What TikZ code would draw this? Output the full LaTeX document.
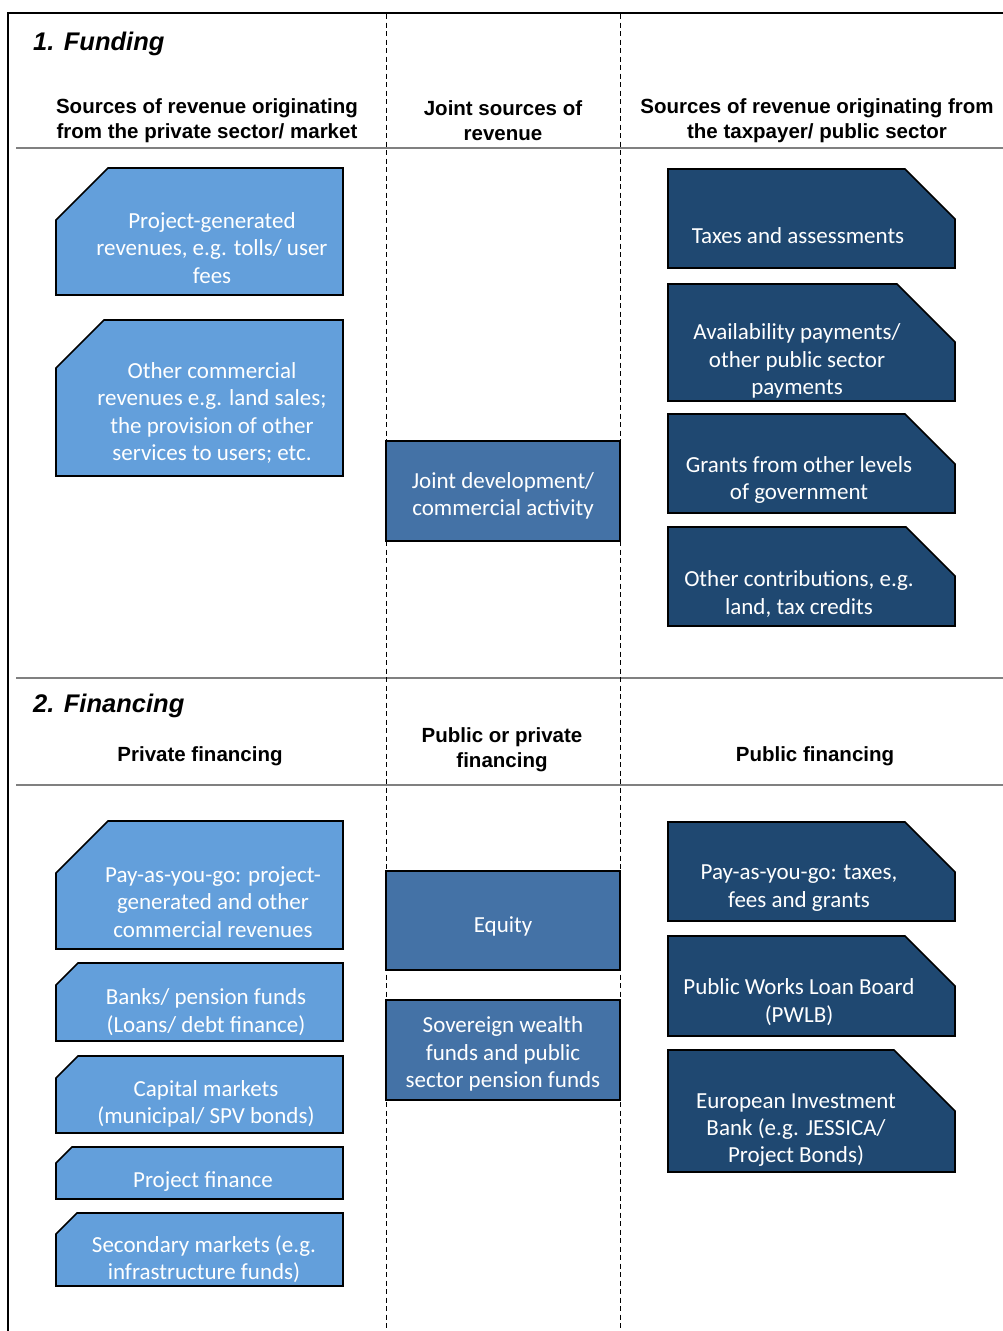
\documentclass[tikz,border=0pt]{standalone}
\usepackage{fontspec}
\setmainfont{Liberation Sans}
\newfontfamily\boxfont{Carlito}
\definecolor{lightblue}{RGB}{99,159,219}
\definecolor{midblue}{RGB}{68,114,166}
\definecolor{darkblue}{RGB}{31,72,113}
\definecolor{rulegray}{RGB}{128,128,128}

\tikzset{
  boxline/.style={draw=black, line width=1.7pt, line join=miter},
  boxtext/.style={text=white, align=center, inner sep=0pt, yshift=-2pt,
    font=\boxfont\fontsize{23}{27.4}\selectfont},
  headtext/.style={align=center, inner sep=0pt, yshift=-2pt,
    font=\bfseries\fontsize{20.5}{25}\selectfont},
  sectiontext/.style={anchor=base west, inner sep=0pt,
    font=\bfseries\itshape\fontsize{25.5}{30}\selectfont},
  colrule/.style={draw=black, line width=0.8pt, dash pattern=on 5pt off 3.5pt},
  rowrule/.style={draw=rulegray, line width=1.4pt},
}

% box with the top-left corner cut off: fill, x1, y1, x2, y2, cut
\newcommand\cutleftbox[6]{%
  \path[boxline, fill=#1] (#2,#3+#6) -- (#2+#6,#3) -- (#4,#3) -- (#4,#5) -- (#2,#5) -- cycle;}
% box with the top-right corner cut off: fill, x1, y1, x2, y2, cut
\newcommand\cutrightbox[6]{%
  \path[boxline, fill=#1] (#2,#3) -- (#4-#6,#3) -- (#4,#3+#6) -- (#4,#5) -- (#2,#5) -- cycle;}
% plain rectangle: fill, x1, y1, x2, y2
\newcommand\plainbox[5]{%
  \path[boxline, fill=#1] (#2,#3) rectangle (#4,#5);}

\begin{document}
\begin{tikzpicture}[x=1pt, y=-1pt]
\useasboundingbox (0,0) rectangle (1003,1331);

% frame and grid
\draw[line width=2.2pt] (8,1331) -- (8,13) -- (1003,13);
\draw[rowrule] (16,148) -- (1003,148);
\draw[rowrule] (16,678) -- (1003,678);
\draw[rowrule] (16,785) -- (1003,785);
\draw[colrule] (386,14) -- (386,1331);
\draw[colrule] (620,14) -- (620,1331);

% section 1: funding
\node[sectiontext] (funding) at (33,50) {1. Funding};
\node[headtext] (hprivrev) at (207,119) {Sources of revenue originating\\from the private sector/ market};
\node[headtext] (hjointrev) at (503,119) {Joint sources of\\revenue};
\node[headtext] (hpubrev) at (817,119) {Sources of revenue originating from\\the taxpayer/ public sector};

\cutleftbox{lightblue}{56}{168}{343}{295}{52}
\node[boxtext] (projrev) at (212,246) {Project-generated\\revenues, e.g. tolls/ user\\fees};
\cutleftbox{lightblue}{56}{320}{343}{476}{48}
\node[boxtext] (othercomm) at (212,411) {Other commercial\\revenues e.g. land sales;\\the provision of other\\services to users; etc.};

\plainbox{midblue}{386}{441}{620}{541}
\node[boxtext] (jointdev) at (503,494) {Joint development/\\commercial activity};

\cutrightbox{darkblue}{668}{169}{955}{268}{50}
\node[boxtext] (taxes) at (798,234) {Taxes and assessments};
\cutrightbox{darkblue}{668}{284}{955}{401}{58}
\node[boxtext] (avail) at (797,359) {Availability payments/\\other public sector\\payments};
\cutrightbox{darkblue}{668}{414}{955}{513}{50}
\node[boxtext] (grants) at (799,478) {Grants from other levels\\of government};
\cutrightbox{darkblue}{668}{527}{955}{626}{49}
\node[boxtext] (othercontr) at (799,592) {Other contributions, e.g.\\land, tax credits};

% section 2: financing
\node[sectiontext] (financing) at (33,712) {2. Financing};
\node[headtext] (hprivfin) at (200,754) {Private financing};
\node[headtext] (hmixfin) at (502,748) {Public or private\\financing};
\node[headtext] (hpubfin) at (815,754) {Public financing};

\cutleftbox{lightblue}{56}{821}{343}{949}{52}
\node[boxtext] (paygopriv) at (213,900) {Pay-as-you-go: project-\\generated and other\\commercial revenues};
\cutleftbox{lightblue}{56}{963}{343}{1041}{22}
\node[boxtext] (banks) at (206,1010) {Banks/ pension funds\\(Loans/ debt finance)};
\cutleftbox{lightblue}{56}{1056}{343}{1133}{22}
\node[boxtext] (capmkts) at (206,1102) {Capital markets\\(municipal/ SPV bonds)};
\cutleftbox{lightblue}{56}{1147}{343}{1199}{16}
\node[boxtext] (projfin) at (203,1180) {Project finance};
\cutleftbox{lightblue}{56}{1213}{343}{1286}{21}
\node[boxtext] (secmkts) at (204,1257) {Secondary markets (e.g.\\infrastructure funds)};

\plainbox{midblue}{386}{871}{620}{970}
\node[boxtext] (equity) at (503,924) {Equity};
\plainbox{midblue}{386}{1000}{620}{1100}
\node[boxtext] (sovereign) at (503,1052) {Sovereign wealth\\funds and public\\sector pension funds};

\cutrightbox{darkblue}{668}{822}{955}{921}{50}
\node[boxtext] (paygopub) at (799,886) {Pay-as-you-go: taxes,\\fees and grants};
\cutrightbox{darkblue}{668}{936}{955}{1036}{50}
\node[boxtext] (pwlb) at (799,1000) {Public Works Loan Board\\(PWLB)};
\cutrightbox{darkblue}{668}{1050}{955}{1172}{61}
\node[boxtext] (eib) at (796,1128) {European Investment\\Bank (e.g. JESSICA/\\Project Bonds)};
\end{tikzpicture}
\end{document}
